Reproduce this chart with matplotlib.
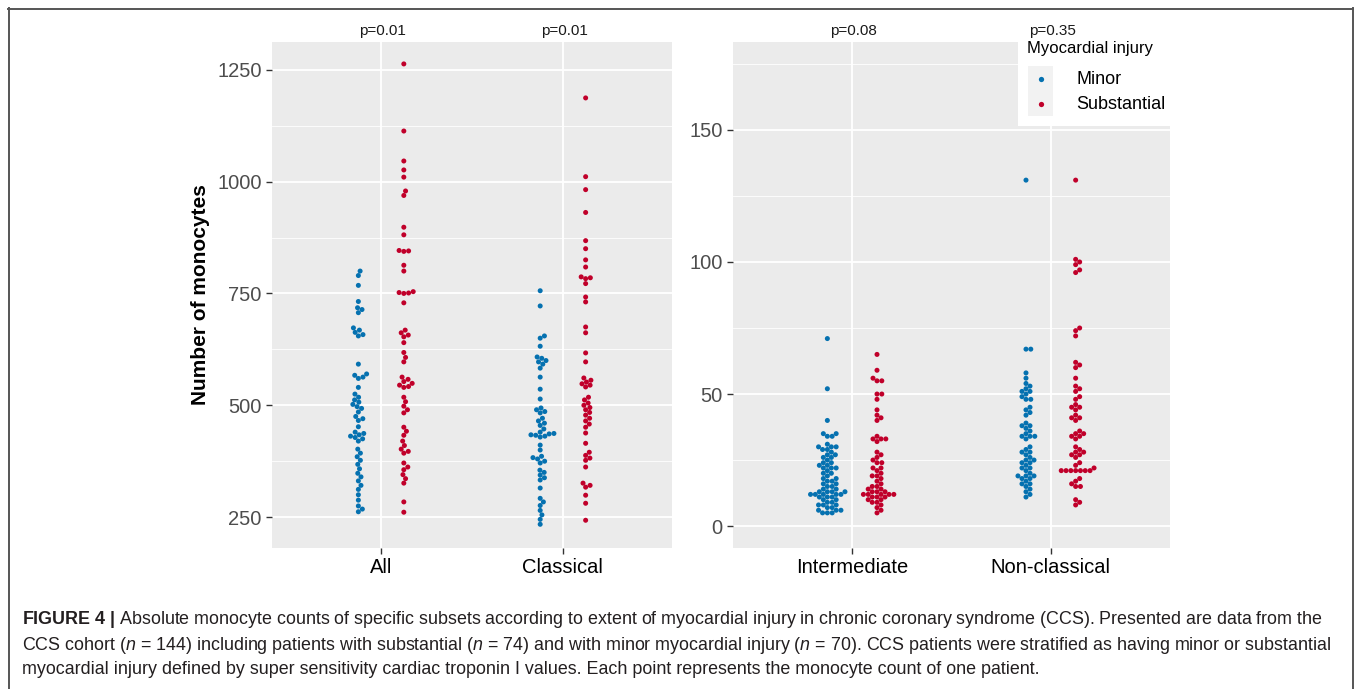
import numpy as np
import matplotlib
matplotlib.use('Agg')
from matplotlib import pyplot as plt
from matplotlib.patches import Rectangle
from matplotlib.lines import Line2D

plt.rcParams['font.family'] = ['Liberation Sans', 'DejaVu Sans']
plt.rcParams['mathtext.fontset'] = 'custom'
plt.rcParams['mathtext.rm'] = 'Liberation Sans'
plt.rcParams['mathtext.it'] = 'Liberation Sans:italic'
plt.rcParams['mathtext.bf'] = 'Liberation Sans:bold'

# ---- data ----
left_categories = ['All', 'Classical']
right_categories = ['Intermediate', 'Non-classical']
p_left = ['p=0.01', 'p=0.01']
p_right = ['p=0.08', 'p=0.35']
groups = ['Minor', 'Substantial']

all_minor = [800, 790, 768, 732, 718, 714, 707, 673, 668, 663, 658, 655,
             592, 570, 567, 563, 560, 540, 525, 518, 512, 507, 502, 497, 493,
             485, 475, 470, 466, 452, 440, 437, 434, 431, 428, 425, 420,
             402, 393, 385, 377, 368, 358, 348, 340, 331, 321, 312, 300, 288,
             275, 268, 262]
all_subst = [1263, 1113, 1046, 1026, 1010, 979, 969, 898, 881, 846, 845, 844,
             813, 800, 754, 752, 751, 750, 729, 668, 662, 657, 653, 640, 618,
             607, 597, 563, 558, 553, 549, 545, 542, 540, 518, 508, 498, 490,
             483, 451, 442, 433, 420, 410, 402, 397, 393, 371, 362, 356, 345,
             336, 326, 284, 261]
classical_minor = [756, 722, 655, 650, 632, 608, 605, 600, 597, 592, 583, 563,
                   536, 514, 494, 490, 486, 483, 471, 465, 460, 455, 447, 440,
                   437, 436, 434, 433, 431, 429, 411, 400, 386, 383, 380, 375,
                   371, 355, 350, 344, 338, 333, 315, 292, 284, 276, 265, 255,
                   245, 234]
classical_subst = [1187, 1011, 982, 931, 868, 850, 825, 809, 787, 785, 783,
                   772, 742, 731, 675, 662, 617, 597, 561, 556, 552, 548, 545,
                   541, 518, 512, 505, 500, 495, 490, 484, 478, 471, 465, 458,
                   451, 438, 415, 395, 388, 382, 377, 362, 326, 321, 317, 299,
                   281, 243]
inter_minor = [71, 52, 40, 35, 35, 34, 34, 31, 30, 30, 30, 29, 29, 28, 27, 27,
               26, 26, 25, 24, 24, 23, 23, 22, 22, 22, 21, 20, 20, 19, 18, 18,
               17, 17, 16, 16, 15, 15, 14, 14, 13, 13, 13, 13, 12, 12, 12, 12,
               12, 11, 11, 11, 10, 10, 9, 9, 8, 8, 8, 7, 7, 6, 6, 6, 5, 5, 5]
inter_subst = [65, 59, 56, 55, 55, 50, 50, 48, 44, 42, 41, 40, 34, 33, 33, 33,
               32, 28, 27, 26, 25, 24, 24, 22, 22, 21, 20, 19, 19, 18, 17, 16,
               15, 15, 14, 14, 13, 13, 13, 12, 12, 12, 12, 12, 11, 11, 11, 10,
               10, 9, 9, 8, 7, 6, 5]
nonclass_minor = [131, 67, 67, 58, 56, 54, 53, 52, 51, 51, 50, 49, 48, 48, 45,
                  44, 43, 42, 39, 38, 38, 37, 36, 35, 34, 34, 34, 33, 30, 29,
                  28, 28, 27, 26, 25, 25, 24, 24, 23, 22, 22, 21, 20, 19, 19,
                  19, 18, 18, 17, 16, 16, 15, 14, 13, 12, 11]
nonclass_subst = [131, 101, 100, 99, 97, 96, 75, 74, 72, 62, 61, 60, 56, 53,
                  52, 51, 49, 48, 46, 45, 45, 44, 42, 41, 41, 40, 36, 35, 35,
                  34, 34, 33, 30, 29, 28, 28, 27, 27, 26, 24, 23, 22, 21, 21,
                  21, 21, 21, 21, 21, 18, 17, 16, 15, 15, 10, 9, 8]

left_data = [(all_minor, all_subst), (classical_minor, classical_subst)]
right_data = [(inter_minor, inter_subst), (nonclass_minor, nonclass_subst)]

colors = ['#0571B0', '#C0002A']
W, H = 1357, 689


def fx(x):
    return x / W


def fy(y):
    return 1 - y / H


def swarm(yp, d):
    # beeswarm offsets (pixels) for points at pixel heights yp
    order = np.argsort(yp, kind='stable')
    placed = []
    xs = np.zeros(len(yp))
    for i in order:
        y = yp[i]
        near = [(px, py) for px, py in placed if abs(py - y) < d]
        cands = [0.0]
        for px, py in near:
            dx = np.sqrt(d * d - (py - y) ** 2)
            cands += [px + dx, px - dx]
        cands.sort(key=abs)
        for c in cands:
            if all((c - px) ** 2 + (y - py) ** 2 >= d * d - 1e-6 for px, py in near):
                xs[i] = c
                break
        placed.append((xs[i], y))
    return xs


fig = plt.figure(figsize=(W / 100, H / 100), dpi=100)
axL = fig.add_axes([fx(272), fy(548), 400 / W, 506 / H])
axR = fig.add_axes([fx(733), fy(548), 437 / W, 506 / H])


def style(ax, ylim, yticks, minor, cats):
    ax.set_facecolor('#EBEBEB')
    ax.set_xlim(0.4, len(cats) + 0.6)
    ax.set_ylim(*ylim)
    ax.set_yticks(yticks)
    ax.set_yticks(minor, minor=True)
    ax.set_xticks(range(1, len(cats) + 1))
    ax.set_xticklabels(cats, fontsize=14.5, color='black')
    ax.tick_params(axis='y', which='major', labelsize=14.5, labelcolor='#4D4D4D',
                   color='#333333', length=4, width=1)
    ax.tick_params(axis='y', which='minor', length=0)
    ax.tick_params(axis='x', color='#333333', length=4, width=1, pad=3)
    ax.grid(which='major', color='white', lw=1.3)
    ax.grid(which='minor', axis='y', color='white', lw=0.6)
    ax.set_axisbelow(True)
    for s in ax.spines.values():
        s.set_visible(False)


style(axL, (181, 1312), [250, 500, 750, 1000, 1250], [375, 625, 875, 1125], left_categories)
style(axR, (-8.3, 183.3), [0, 50, 100, 150], [25, 75, 125, 175], right_categories)


def draw(ax, data, pvals):
    fig.canvas.draw()
    bbox = ax.get_window_extent()
    x0, x1 = ax.get_xlim()
    px_per_x = bbox.width / (x1 - x0)
    for k, pair in enumerate(data):
        for g, vals in enumerate(pair):
            vals = np.asarray(vals, dtype=float)
            yp = ax.transData.transform(np.column_stack([np.ones_like(vals), vals]))[:, 1]
            off = swarm(yp, 4.8)
            xc = k + 1 + (-0.125 if g == 0 else 0.125)
            ax.scatter(xc + off / px_per_x, vals, s=13, color=colors[g],
                       edgecolors='none', zorder=3, clip_on=False)
        # p-value label, centred over the category, a little above the panel
        xpix = ax.transData.transform((k + 1, 0))[0]
        fig.text(xpix / W + 1.5 / W, fy(31), pvals[k], ha='center', va='center',
                 fontsize=11, color='#1A1A1A', zorder=8)


draw(axL, left_data, p_left)
draw(axR, right_data, p_right)

fig.text(fx(200), fy(295), 'Number of monocytes', rotation=90, ha='center',
         va='center', fontsize=15, fontweight='bold')

# legend
fig.add_artist(Rectangle((fx(1018), fy(126)), 154 / W, 88 / H, transform=fig.transFigure,
                         facecolor='white', edgecolor='none', zorder=5))
fig.text(fx(1027), fy(48), 'Myocardial injury', ha='left', va='center',
         fontsize=12, zorder=6)
for g, (label, ytop) in enumerate(zip(groups, [66, 91])):
    fig.add_artist(Rectangle((fx(1028), fy(ytop + 25)), 25 / W, 25 / H,
                             transform=fig.transFigure, facecolor='#F2F2F2',
                             edgecolor='none', zorder=6))
    fig.add_artist(Line2D([fx(1040.5)], [fy(ytop + 12.5)], marker='o', markersize=3.8,
                          color=colors[g], markeredgewidth=0,
                          transform=fig.transFigure, zorder=7))
    fig.text(fx(1076), fy(ytop + 13.5), label, ha='left', va='center',
             fontsize=13, zorder=7)

# frame of the figure panel
for xs, ys in [([8, 1353], [8.5, 8.5]), ([8.5, 8.5], [8, 689]), ([1353, 1353], [8, 689])]:
    fig.add_artist(Line2D([fx(v) for v in xs], [fy(v) for v in ys], color='#555555',
                          lw=1.4, transform=fig.transFigure))

caption = [
    r'$\mathbf{FIGURE\ 4\ |}$ Absolute monocyte counts of specific subsets according to extent of '
    r'myocardial injury in chronic coronary syndrome (CCS). Presented are data from the',
    r'CCS cohort ($n$ = 144) including patients with substantial ($n$ = 74) and with minor '
    r'myocardial injury ($n$ = 70). CCS patients were stratified as having minor or substantial',
    'myocardial injury defined by super sensitivity cardiac troponin I values. Each point '
    'represents the monocyte count of one patient.',
]
for line, yc in zip(caption, [620, 645, 670]):
    fig.text(fx(22), fy(yc), line, ha='left', va='center', fontsize=12.9, color='#231F20')

fig.savefig('out.png', dpi=100)
